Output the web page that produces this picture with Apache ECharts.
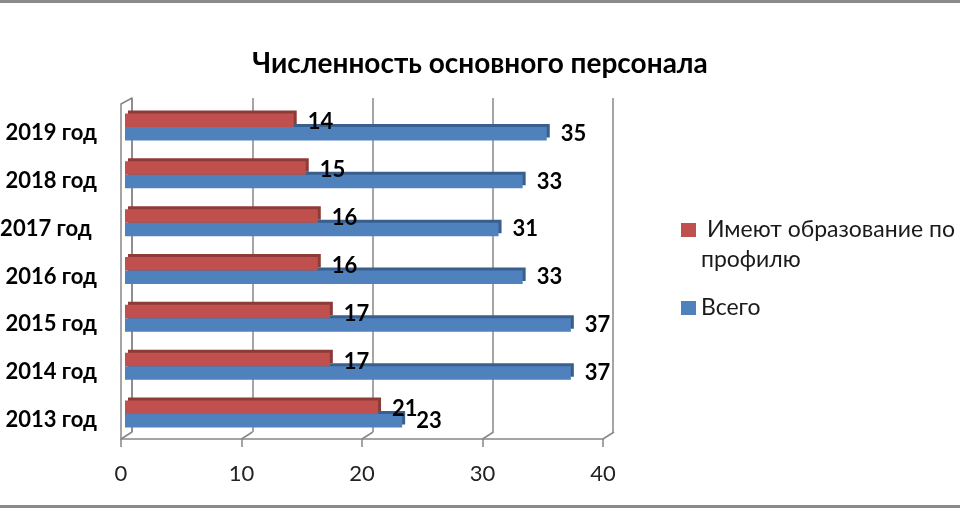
<!DOCTYPE html>
<html><head><meta charset="utf-8">
<script src="https://cdn.jsdelivr.net/npm/echarts@6/dist/echarts.min.js"></script>
<style>html,body{margin:0;padding:0;background:#fff}#c{width:960px;height:510px}</style>
</head><body><div id="c"></div>
<script>
const categories = ['2013 год','2014 год','2015 год','2016 год','2017 год ','2018 год','2019 год'];
const profileValues = [21, 17, 17, 16, 16, 15, 14];
const totalValues = [23, 37, 37, 33, 31, 33, 35];
const seriesNames = [' Имеют образование по профилю', 'Всего'];
const titleText = 'Численность основного персонала';
const axisMin = 0, axisMax = 40, axisStep = 10;
const xTicks = [0, 10, 20, 30, 40];

const FF = 'Lato, "Noto Sans", sans-serif';
const GRID_COLOR = '#878787';
const chart = echarts.init(document.getElementById('c'));

function valAxis(extra) {
  return Object.assign({type:'value', min:axisMin, max:axisMax, interval:axisStep}, extra);
}
const lineSt = {color:GRID_COLOR, width:1.5};

chart.setOption({
  animation:false,
  backgroundColor:'#fff',
  title:{text:titleText, left:'center', top:42, textStyle:{fontFamily:FF, fontSize:28, fontWeight:'bold', color:'#000', lineHeight:34}},
  graphic:[
    {type:'rect', shape:{x:0, y:0, width:960, height:3}, style:{fill:'#8a8a8a'}, silent:true},
    {type:'rect', shape:{x:0, y:505, width:960, height:3}, style:{fill:'#8a8a8a'}, silent:true}
  ],
  grid:[
    {left:125, right:353, top:103, bottom:72, outerBoundsMode:'none'},
    {left:132, right:347, top:98, bottom:78, outerBoundsMode:'none'},
    {left:121, right:357, top:104, bottom:71, outerBoundsMode:'none'}
  ],
  xAxis:[
    valAxis({gridIndex:0, axisLine:{show:false}, axisTick:{show:false}, axisLabel:{show:false}, splitLine:{show:false}}),
    valAxis({gridIndex:1, axisLine:{show:false}, axisTick:{show:false}, axisLabel:{show:false}, splitLine:{show:true, lineStyle:lineSt}}),
    valAxis({gridIndex:2, axisLine:{show:true, lineStyle:lineSt},
      axisTick:{show:true, length:8, lineStyle:lineSt},
      axisLabel:{show:true, margin:24, fontFamily:FF, fontSize:22, color:'#222'}, splitLine:{show:false}})
  ],
  yAxis:[
    {type:'category', gridIndex:0, data:categories, axisLine:{show:false}, axisTick:{show:false}, splitLine:{show:false},
      axisLabel:{show:true, margin:28, fontFamily:FF, fontSize:22, fontWeight:'bold', color:'#000', verticalAlign:'top', lineHeight:12}},
    {type:'category', gridIndex:1, data:categories, axisTick:{show:false}, axisLabel:{show:false}, splitLine:{show:false}, axisLine:{show:true, lineStyle:lineSt}},
    {type:'value', gridIndex:2, min:0, max:1, axisTick:{show:false}, axisLabel:{show:false}, splitLine:{show:false}, axisLine:{show:true, lineStyle:lineSt}}
  ],
  legend:{
    orient:'vertical', left:681, top:185, padding:0, itemWidth:15, itemHeight:14, itemGap:18, icon:'rect',
    textStyle:{fontFamily:FF, fontSize:23, color:'#1a1a1a', lineHeight:30},
    formatter:function(n){ return n.split(' ').length > 2 ? '\n' + n.replace(/ (\S+)$/, '\n$1') : n; },
    data:seriesNames
  },
  series:[
    {type:'bar', name:seriesNames[0], xAxisIndex:0, yAxisIndex:0, data:profileValues, barWidth:13.5, barGap:'0%', z:3,
      itemStyle:{color:'#C0504D', shadowColor:'#8E3A37', shadowOffsetX:3, shadowOffsetY:-3, shadowBlur:0},
      label:{show:true, position:'right', distance:14, offset:[0,2], fontFamily:FF, fontSize:22, fontWeight:'bold', color:'#000'}},
    {type:'bar', name:seriesNames[1], xAxisIndex:0, yAxisIndex:0, data:totalValues, barWidth:13.5, barGap:'0%', z:2,
      itemStyle:{color:'#4F81BD', shadowColor:'#385F8E', shadowOffsetX:3, shadowOffsetY:-3, shadowBlur:0},
      label:{show:true, position:'right', distance:14, fontFamily:FF, fontSize:22, fontWeight:'bold', color:'#000'}},
    {type:'custom', xAxisIndex:2, yAxisIndex:2, silent:true, z:1, data:xTicks.map(function(v){return [v];}),
      renderItem:function(params, api){
        const p = api.coord([api.value(0), 0]);
        const children = [{type:'line', shape:{x1:p[0], y1:p[1], x2:p[0]+11, y2:p[1]-7}, style:{stroke:GRID_COLOR, lineWidth:1.5}}];
        if (params.dataIndex === 0) {
          const q = api.coord([api.value(0), 1]);
          children.push({type:'line', shape:{x1:q[0], y1:q[1], x2:q[0]+11, y2:q[1]-6}, style:{stroke:GRID_COLOR, lineWidth:1.5}});
        }
        return {type:'group', children:children};
      }}
  ]
});
</script></body></html>
